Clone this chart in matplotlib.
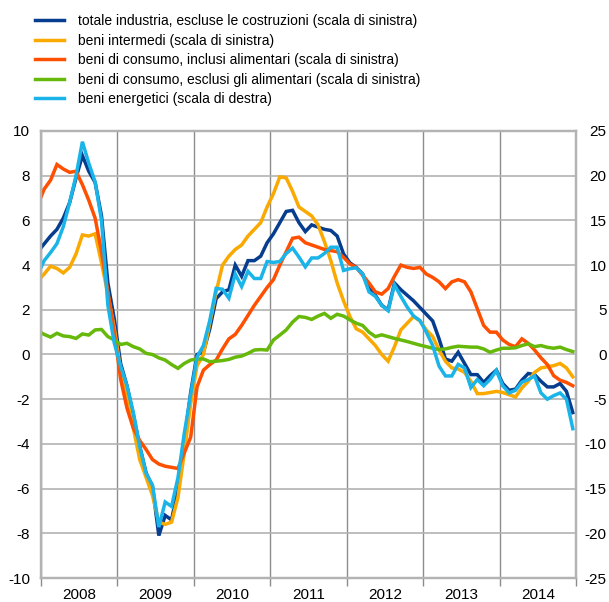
import numpy as np
import matplotlib
matplotlib.use("Agg")
import matplotlib.pyplot as plt

plt.rcParams['font.family'] = ['Liberation Sans', 'DejaVu Sans']
plt.rcParams['axes.unicode_minus'] = False

# monthly data, Dec 2007 .. Dec 2014 (first point is clipped at the left edge)
years = ["2008", "2009", "2010", "2011", "2012", "2013", "2014"]

totale = [4.6,
          4.95, 5.3, 5.6, 6.1, 6.8, 7.9, 8.9, 8.2, 7.7, 6.2, 3.2, 1.6,
          -0.4, -1.4, -2.7, -4.1, -5.3, -5.9, -8.1, -7.2, -7.4, -6.0, -3.9, -1.7,
          0.0, 0.1, 1.15, 2.5, 2.8, 2.9, 4.0, 3.5, 4.2, 4.2, 4.4, 5.0,
          5.4, 5.9, 6.4, 6.45, 5.9, 5.5, 5.8, 5.7, 5.6, 5.55, 5.3, 4.5,
          4.1, 3.9, 3.6, 2.95, 2.65, 2.2, 2.0, 3.2, 2.9, 2.65, 2.4, 2.1,
          1.8, 1.5, 0.7, -0.2, -0.3, 0.1, -0.4, -0.9, -0.9, -1.25, -0.95, -0.7,
          -1.3, -1.6, -1.55, -1.15, -0.85, -0.9, -1.2, -1.45, -1.45, -1.3, -1.65, -2.6]

intermedi = [3.3,
             3.6, 3.95, 3.85, 3.65, 3.9, 4.5, 5.35, 5.3, 5.4, 4.1, 2.7, 1.2,
             -0.7, -2.0, -3.3, -4.7, -5.5, -6.3, -7.5, -7.6, -7.5, -6.4, -4.4, -2.2,
             -0.5, 0.0, 1.4, 2.8, 4.0, 4.4, 4.7, 4.9, 5.3, 5.6, 5.9, 6.6,
             7.2, 7.95, 7.9, 7.3, 6.6, 6.4, 6.2, 5.8, 5.05, 4.2, 3.2, 2.4,
             1.7, 1.15, 1.0, 0.7, 0.4, 0.0, -0.3, 0.35, 1.1, 1.4, 1.7, 1.5,
             1.1, 0.8, 0.2, -0.3, -0.6, -0.65, -0.8, -1.2, -1.75, -1.75, -1.7, -1.65,
             -1.7, -1.8, -1.9, -1.5, -1.2, -0.8, -0.6, -0.55, -0.5, -0.4, -0.6, -1.0]

consumo_incl = [6.7,
                7.4, 7.8, 8.5, 8.3, 8.15, 8.2, 7.6, 6.9, 6.1, 4.6, 2.8, 1.0,
                -1.1, -2.4, -3.3, -3.85, -4.25, -4.7, -4.9, -5.0, -5.05, -5.1, -4.4, -3.7,
                -1.45, -0.7, -0.45, -0.25, 0.25, 0.7, 0.9, 1.3, 1.75, 2.2, 2.6, 3.0,
                3.35, 4.0, 4.6, 5.2, 5.25, 5.0, 4.9, 4.8, 4.7, 4.65, 4.6, 4.35,
                4.05, 3.9, 3.55, 3.2, 2.8, 2.7, 2.95, 3.5, 4.0, 3.9, 3.85, 3.9,
                3.6, 3.45, 3.25, 2.95, 3.25, 3.35, 3.25, 2.8, 2.05, 1.3, 1.0, 1.0,
                0.65, 0.45, 0.35, 0.7, 0.5, 0.2, -0.15, -0.45, -0.95, -1.15, -1.25, -1.4]

consumo_escl = [1.05,
                0.9, 0.78, 0.95, 0.83, 0.8, 0.72, 0.92, 0.87, 1.1, 1.12, 0.8, 0.65,
                0.45, 0.5, 0.35, 0.25, 0.05, 0.0, -0.15, -0.25, -0.45, -0.62, -0.4, -0.25,
                -0.2, -0.2, -0.32, -0.3, -0.27, -0.22, -0.12, -0.07, 0.05, 0.2, 0.22, 0.2,
                0.65, 0.87, 1.1, 1.45, 1.7, 1.66, 1.57, 1.72, 1.84, 1.62, 1.8, 1.72,
                1.55, 1.4, 1.3, 1.0, 0.8, 0.88, 0.8, 0.72, 0.65, 0.58, 0.5, 0.42,
                0.35, 0.28, 0.22, 0.25, 0.32, 0.37, 0.35, 0.33, 0.33, 0.25, 0.1, 0.2,
                0.28, 0.28, 0.3, 0.4, 0.48, 0.35, 0.4, 0.32, 0.28, 0.33, 0.22, 0.13]

energetici = [9.0,
              10.5, 11.4, 12.4, 14.3, 17.0, 20.0, 23.8, 21.4, 19.3, 15.0, 5.5, 1.3,
              -1.3, -3.5, -6.5, -10.3, -13.3, -14.6, -19.3, -16.5, -17.0, -13.8, -8.8, -4.5,
              -0.3, 1.0, 3.8, 7.4, 7.3, 6.3, 9.0, 7.6, 9.3, 8.5, 8.5, 10.4,
              10.3, 10.4, 11.3, 11.9, 10.9, 9.8, 10.8, 10.8, 11.3, 12.0, 12.0, 9.4,
              9.6, 9.7, 9.0, 7.0, 6.5, 5.5, 4.9, 7.8, 6.5, 5.3, 4.3, 3.8,
              2.5, 1.0, -1.3, -2.4, -2.4, -1.1, -1.5, -3.7, -2.8, -3.5, -2.8, -1.8,
              -3.5, -4.3, -4.0, -3.1, -2.8, -2.4, -4.3, -5.0, -4.6, -4.3, -5.0, -8.3]

labels = ["totale industria, escluse le costruzioni (scala di sinistra)",
          "beni intermedi (scala di sinistra)",
          "beni di consumo, inclusi alimentari (scala di sinistra)",
          "beni di consumo, esclusi gli alimentari (scala di sinistra)",
          "beni energetici (scala di destra)"]
colors = ['#063d8f', '#f9a900', '#ff4f00', '#66b80a', '#1ab4e8']

# x in years from Jan 2008, points at month centres
x = (np.arange(len(totale)) - 1 + 0.5) / 12.0

fig = plt.figure(figsize=(6.09, 6.02), dpi=100)
ax = fig.add_axes([41 / 609, 1 - 578 / 602, 535 / 609, 447 / 602])
ax2 = ax.twinx()

lw = 2.5
h = []
for ser, lab, col in zip([totale, intermedi, consumo_incl, consumo_escl], labels[:4], colors[:4]):
    ln, = ax.plot(x, ser, color=col, lw=lw, label=lab, solid_joinstyle='miter')
    h.append(ln)
ln, = ax2.plot(x, energetici, color=colors[4], lw=lw, label=labels[4], solid_joinstyle='miter')
h.append(ln)

ax.set_xlim(0, 7)
ax.set_ylim(-10, 10)
ax2.set_ylim(-25, 25)
ax.set_yticks(np.arange(-10, 11, 2))
ax2.set_yticks(np.arange(-25, 26, 5))

ax.set_xticks(np.arange(0, 8))
ax.set_xticklabels([])
ax.set_xticks(np.arange(7) + 0.5, minor=True)
ax.set_xticklabels(years, minor=True)
ax.tick_params(axis='x', which='major', length=6, width=1, color='#8c8c8c')
ax.tick_params(axis='x', which='minor', length=0, pad=7, labelsize=11)
ax.tick_params(axis='y', length=0, pad=8, labelsize=11)
ax2.tick_params(axis='y', length=0, pad=22, labelsize=11)
for t in ax2.get_yticklabels():
    t.set_horizontalalignment('right')

ax.yaxis.grid(True, color='#b3b3b3', lw=1.2)
ax.xaxis.grid(True, which='major', color='#8c8c8c', lw=1.0)
ax.set_axisbelow(True)
for a in (ax, ax2):
    for s in a.spines.values():
        s.set_color('#b3b3b3')
        s.set_linewidth(1.6)

fig.legend(handles=h, labels=labels, loc='upper left', bbox_to_anchor=(35 / 609, 1 - 14 / 602),
           frameon=False, fontsize=10, handlelength=2.1, handletextpad=1.0,
           labelspacing=0.4, borderpad=0, borderaxespad=0)

fig.savefig("out.png", dpi=100)
